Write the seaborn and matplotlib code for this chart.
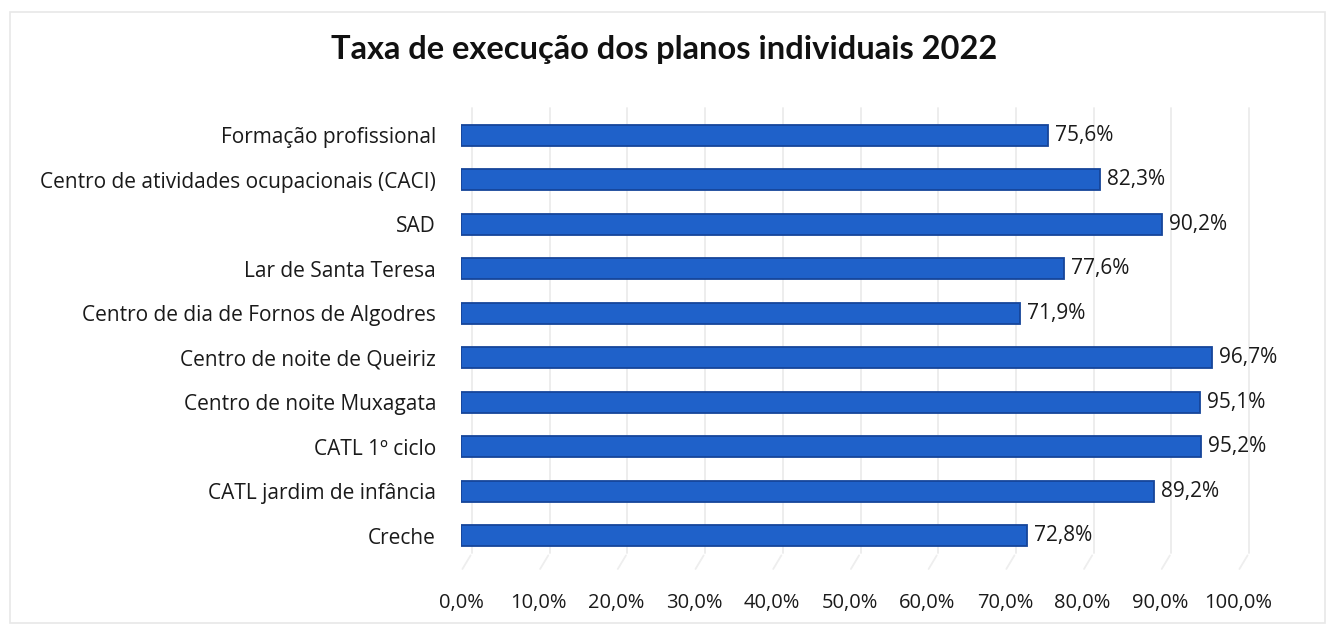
import matplotlib
matplotlib.use("Agg")
import matplotlib.pyplot as plt
import matplotlib.transforms as mtransforms
from matplotlib.patches import Rectangle
import seaborn as sns
import pandas as pd

# Plan execution rate per service, 2022 (%)
categories = [
    "Formação profissional",
    "Centro de atividades ocupacionais (CACI)",
    "SAD",
    "Lar de Santa Teresa",
    "Centro de dia de Fornos de Algodres",
    "Centro de noite de Queiriz",
    "Centro de noite Muxagata",
    "CATL 1º ciclo",
    "CATL jardim de infância",
    "Creche",
]
values = [75.6, 82.3, 90.2, 77.6, 71.9, 96.7, 95.1, 95.2, 89.2, 72.8]
xticks = [0, 10, 20, 30, 40, 50, 60, 70, 80, 90, 100]
title = "Taxa de execução dos planos individuais 2022"


def pct(v):
    return f"{v:.1f}%".replace(".", ",")


df = pd.DataFrame({"servico": categories, "taxa": values})

sns.set_theme(style="white")
plt.rcParams["font.family"] = ["Open Sans", "DejaVu Sans"]

W, H = 1327, 625
fig = plt.figure(figsize=(W / 100, H / 100), dpi=100)
fig.patch.set_facecolor("white")

# light outer frame of the chart area
fig.patches.append(Rectangle((10 / W, 2 / H), 1315 / W, 611 / H,
                             transform=fig.transFigure, fill=False,
                             edgecolor="#e8e8e8", linewidth=1.2))

ax = fig.add_axes([461 / W, 1 - 558 / H, 777 / W, 445 / H])

sns.barplot(data=df, x="taxa", y="servico", order=categories, ax=ax,
            color="#1f61c9", width=0.47, saturation=1,
            edgecolor="#16459a", linewidth=1.3, zorder=3)

ax.set_xlim(0, 100)
ax.set_ylim(len(categories) - 0.5, -0.5)

# back-wall gridlines, shifted slightly as on a 3-D plot, with floor diagonals
wall = mtransforms.offset_copy(ax.get_xaxis_transform(), fig=fig,
                               x=0.11, y=0.05, units="inches")
for v in xticks:
    ax.plot([v, v], [0.0, 1.0], transform=wall, color="#ececec",
            linewidth=1.3, zorder=1, clip_on=False)
    ax.annotate("", xy=(v, -0.03), xycoords=ax.get_xaxis_transform(),
                xytext=(v, 0.0), textcoords=wall,
                arrowprops=dict(arrowstyle="-", color="#eeeeee", lw=1.3))

ax.set_xticks(xticks)
ax.set_xticklabels([pct(v) for v in xticks])
ax.tick_params(axis="x", length=0, pad=25, labelsize=14.5, colors="#1a1a1a")
ax.tick_params(axis="y", length=0, pad=18, labelsize=15, colors="#1a1a1a")
ax.set_xlabel("")
ax.set_ylabel("")
for s in ax.spines.values():
    s.set_visible(False)

for cont in ax.containers:
    ax.bar_label(cont, labels=[pct(v) for v in values], padding=5,
                 fontsize=15, color="#1a1a1a")

fig.text(664 / W, 1 - 50 / H, title, ha="center", va="center",
         fontsize=23.5, fontweight="bold", color="#111111",
         family=["Lato", "DejaVu Sans"])

fig.savefig("out.png", dpi=100, facecolor="white")
